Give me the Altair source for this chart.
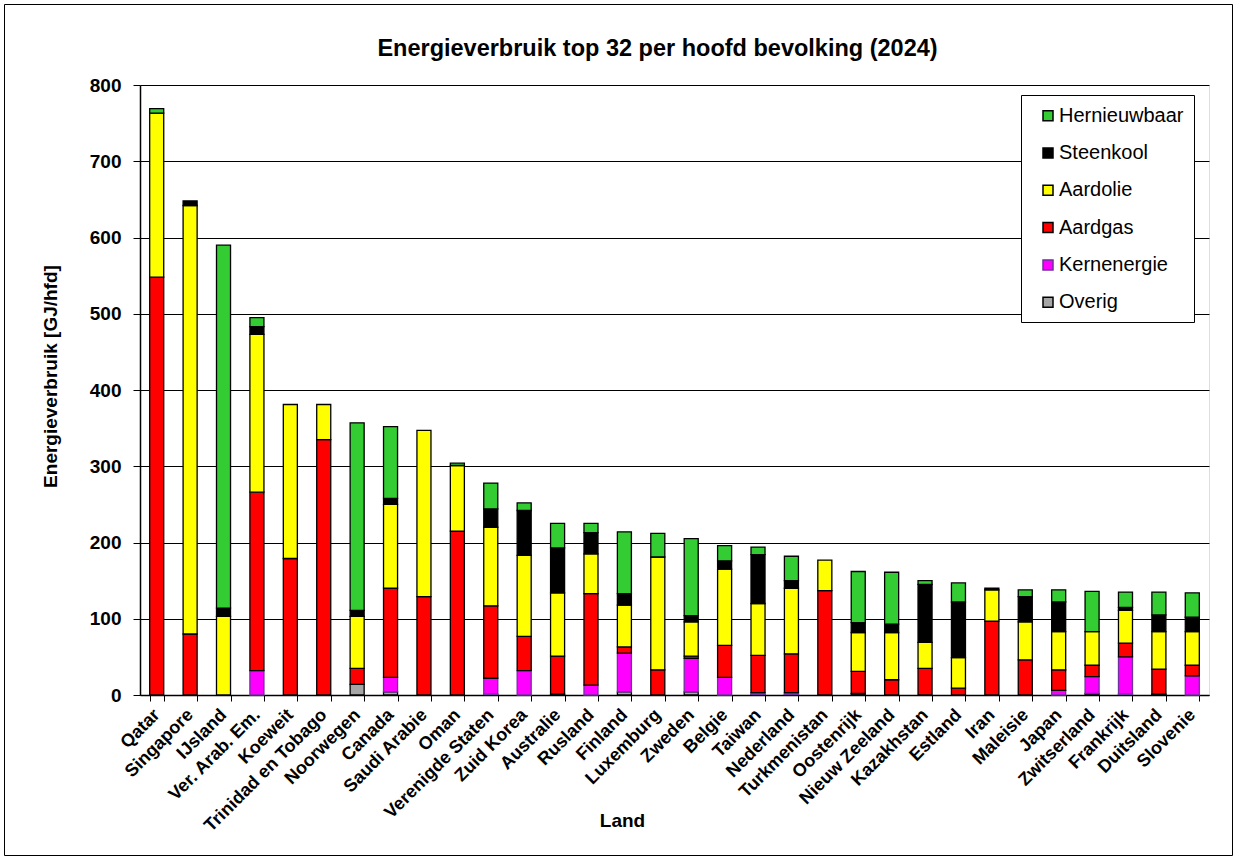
import altair as alt
import pandas as pd

landen = ["Qatar", "Singapore", "IJsland", "Ver. Arab. Em.", "Koeweit", "Trinidad en Tobago",
          "Noorwegen", "Canada", "Saudi Arabie", "Oman", "Verenigde Staten", "Zuid Korea",
          "Australie", "Rusland", "Finland", "Luxemburg", "Zweden", "Belgie", "Taiwan",
          "Nederland", "Turkmenistan", "Oostenrijk", "Nieuw Zeeland", "Kazakhstan", "Estland",
          "Iran", "Maleisie", "Japan", "Zwitserland", "Frankrijk", "Duitsland", "Slovenie"]

overig = [0, 0, 0, 0, 0, 0, 14, 4, 0, 0, 1, 0, 1, 0, 4, 0, 4, 0, 1, 1, 0, 2, 0, 0, 0, 0, 0, 0, 2, 1, 1, 0]
kernenergie = [0, 0, 0, 32, 0, 0, 0, 19, 0, 0, 21, 32, 0, 13, 51, 0, 44, 23, 2, 2, 0, 0, 0, 0, 0, 0, 0, 6, 22, 49, 0, 25]
aardgas = [548, 80, 0, 234, 179, 335, 21, 117, 129, 215, 95, 45, 50, 120, 8, 33, 3, 42, 49, 51, 137, 29, 20, 35, 9, 97, 46, 27, 15, 18, 33, 14]
aardolie = [215, 562, 103, 207, 202, 46, 68, 110, 218, 86, 103, 106, 83, 52, 55, 148, 45, 100, 68, 86, 40, 51, 62, 34, 40, 41, 50, 50, 44, 43, 49, 44]
steenkool = [0, 6, 11, 10, 0, 0, 8, 8, 0, 0, 24, 59, 59, 28, 15, 0, 8, 11, 64, 10, 0, 13, 11, 76, 73, 2, 33, 39, 0, 4, 22, 19]
hernieuwbaar = [6, 0, 476, 12, 0, 0, 246, 94, 0, 3, 34, 10, 32, 12, 81, 31, 101, 20, 10, 32, 0, 67, 68, 5, 25, 0, 9, 16, 53, 20, 30, 32]

bronnen = ["Hernieuwbaar", "Steenkool", "Aardolie", "Aardgas", "Kernenergie", "Overig"]
kleuren = ["#33CC33", "#000000", "#FFFF00", "#FF0000", "#FF00FF", "#A6A6A6"]
randen = ["#000000", "#000000", "#000000", "#000000", "#7030A0", "#000000"]
stapel = {"Overig": 0, "Kernenergie": 1, "Aardgas": 2, "Aardolie": 3, "Steenkool": 4, "Hernieuwbaar": 5}

reeksen = {"Overig": overig, "Kernenergie": kernenergie, "Aardgas": aardgas,
           "Aardolie": aardolie, "Steenkool": steenkool, "Hernieuwbaar": hernieuwbaar}

rows = []
for bron, vals in reeksen.items():
    for land, v in zip(landen, vals):
        if v > 0:
            rows.append({"Land": land, "Bron": bron, "Waarde": v, "ord": stapel[bron]})
df = pd.DataFrame(rows)

FONT = "Liberation Sans"


def legende():
    return alt.Legend(title=None, orient="none", legendX=898, legendY=20.7, padding=0,
                      symbolType="square", symbolSize=100, symbolStrokeWidth=1.5,
                      labelFont=FONT, labelFontSize=20, labelColor="black",
                      rowPadding=17.3, labelOffset=1)


bars = alt.Chart(df).mark_bar(strokeWidth=1.3).encode(
    x=alt.X("Land:N", sort=landen,
            scale=alt.Scale(paddingInner=0.58, paddingOuter=0.29),
            axis=alt.Axis(title="Land", labelAngle=-45, labelAlign="right", labelBaseline="middle",
                          labelPadding=11, labelLimit=300, tickBand="extent", tickSize=6,
                          tickColor="black", domainColor="black", domainWidth=1.5,
                          labelFont=FONT, labelFontWeight="bold", labelFontSize=18, labelColor="black",
                          titleFont=FONT, titleFontWeight="bold", titleFontSize=19, titleColor="black",
                          titleX=482, titleY=131, titleAlign="center", titleBaseline="alphabetic",
                          grid=False)),
    y=alt.Y("Waarde:Q", stack="zero",
            scale=alt.Scale(domain=[0, 800], nice=False),
            axis=alt.Axis(title="Energieverbruik [GJ/hfd]", values=list(range(0, 801, 100)),
                          grid=True, gridColor="black", gridWidth=1, tickSize=7, tickColor="black",
                          domainColor="black", domainWidth=1.5, labelPadding=12,
                          labelFont=FONT, labelFontWeight="bold", labelFontSize=19, labelColor="black",
                          titleFont=FONT, titleFontWeight="bold", titleFontSize=19, titleColor="black",
                          titleAngle=270, titleX=-84, titleY=291, titleAlign="center",
                          titleBaseline="alphabetic")),
    color=alt.Color("Bron:N", scale=alt.Scale(domain=bronnen, range=kleuren), legend=legende()),
    stroke=alt.Stroke("Bron:N", scale=alt.Scale(domain=bronnen, range=randen), legend=legende()),
    order=alt.Order("ord:Q", sort="ascending"),
)

legend_box = alt.Chart(alt.Data(values=[{"a": 1}])).mark_rect(
    fill="white", stroke="black", strokeWidth=1
).encode(x=alt.value(881.5), x2=alt.value(1054.5), y=alt.value(10.5), y2=alt.value(237.5))

outer_box = alt.Chart(alt.Data(values=[{"a": 1}])).mark_rect(
    fillOpacity=0, stroke="black", strokeWidth=1
).encode(x=alt.value(-135.5), x2=alt.value(1092.5), y=alt.value(-80.5), y2=alt.value(770.5))

chart = alt.layer(bars, legend_box, outer_box).properties(
    width=1069, height=610,
    title=alt.TitleParams("Energieverbruik top 32 per hoofd bevolking (2024)",
                          font=FONT, fontSize=23.5, fontWeight="bold", color="black",
                          anchor="middle", frame="group", dx=-17, offset=0, dy=75,
                          baseline="alphabetic"),
    autosize=alt.AutoSizeParams(type="none"),
    padding={"left": 140, "top": 85, "right": 31, "bottom": 165},
).configure_view(
    stroke="#808080", strokeWidth=1.5
).configure(background="white")

chart.save("out.html", embed_options={"renderer": "svg", "actions": False})
